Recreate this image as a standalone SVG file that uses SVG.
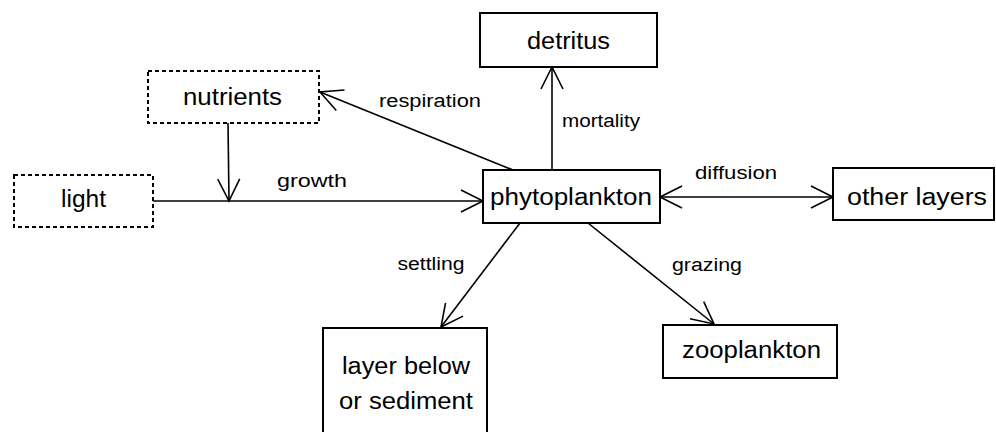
<svg xmlns="http://www.w3.org/2000/svg" width="996" height="432" viewBox="0 0 996 432">
<style>
.box{fill:#fff;stroke:#000;stroke-width:2}
.dash{fill:#fff;stroke:#000;stroke-width:2;stroke-dasharray:4 3}
.node{font-family:"Liberation Sans",Arial,sans-serif;font-size:23px;fill:#000;text-anchor:middle}
.lbl{font-family:"Liberation Sans",Arial,sans-serif;font-size:18px;fill:#000;text-anchor:middle}
.edge{fill:none;stroke:#000;stroke-width:1.6;marker-end:url(#arr)}
</style>
<defs>
<marker id="arr" viewBox="-24 -13 26 26" markerWidth="26" markerHeight="26" refX="0" refY="0" markerUnits="userSpaceOnUse" orient="auto-start-reverse">
<path d="M-22,-11 L0,0 L-22,11" fill="none" stroke="#000" stroke-width="1.6"/>
</marker>
</defs>
<rect width="996" height="432" fill="#fff"/>
<g id="connectors">
<line class="edge" x1="153" y1="201" x2="483" y2="201"/>
<line class="edge" x1="228" y1="123" x2="229" y2="201"/>
<line class="edge" x1="513" y1="170" x2="320" y2="92"/>
<line class="edge" x1="552" y1="170" x2="552" y2="67"/>
<line class="edge" x1="660" y1="197" x2="833" y2="197" style="marker-start:url(#arr)"/>
<line class="edge" x1="520" y1="223" x2="441" y2="327"/>
<line class="edge" x1="588" y1="223" x2="714" y2="324"/>
<text class="lbl" x="430" y="107" textLength="102" lengthAdjust="spacingAndGlyphs">respiration</text>
<text class="lbl" x="312" y="187" textLength="70" lengthAdjust="spacingAndGlyphs">growth</text>
<text class="lbl" x="601" y="127" textLength="78" lengthAdjust="spacingAndGlyphs">mortality</text>
<text class="lbl" x="736" y="179" textLength="82" lengthAdjust="spacingAndGlyphs">diffusion</text>
<text class="lbl" x="431" y="270" textLength="67" lengthAdjust="spacingAndGlyphs">settling</text>
<text class="lbl" x="707" y="271" textLength="70" lengthAdjust="spacingAndGlyphs">grazing</text>
</g>
<g id="detritus">
<rect class="box" x="480" y="13" width="177" height="54"/>
<text class="node" x="568.5" y="49" textLength="83" lengthAdjust="spacingAndGlyphs">detritus</text>
</g>
<g id="nutrients">
<rect class="dash" x="148" y="71" width="171" height="52"/>
<text class="node" x="232.5" y="105" textLength="99" lengthAdjust="spacingAndGlyphs">nutrients</text>
</g>
<g id="light">
<rect class="dash" x="14" y="175" width="139" height="52"/>
<text class="node" x="83.5" y="207" textLength="45" lengthAdjust="spacingAndGlyphs">light</text>
</g>
<g id="phytoplankton">
<rect class="box" x="483" y="170" width="177" height="53"/>
<text class="node" x="571" y="205" textLength="162" lengthAdjust="spacingAndGlyphs">phytoplankton</text>
</g>
<g id="other-layers">
<rect class="box" x="833" y="168" width="161" height="52"/>
<text class="node" x="917" y="205" textLength="140" lengthAdjust="spacingAndGlyphs">other layers</text>
</g>
<g id="zooplankton">
<rect class="box" x="663" y="325" width="174" height="53"/>
<text class="node" x="751.5" y="358" textLength="139" lengthAdjust="spacingAndGlyphs">zooplankton</text>
</g>
<g id="layer-below">
<rect class="box" x="323" y="328" width="164" height="120"/>
<text class="node" x="406" y="374" textLength="128" lengthAdjust="spacingAndGlyphs">layer below</text>
<text class="node" x="406" y="409" textLength="134" lengthAdjust="spacingAndGlyphs">or sediment</text>
</g>
</svg>
